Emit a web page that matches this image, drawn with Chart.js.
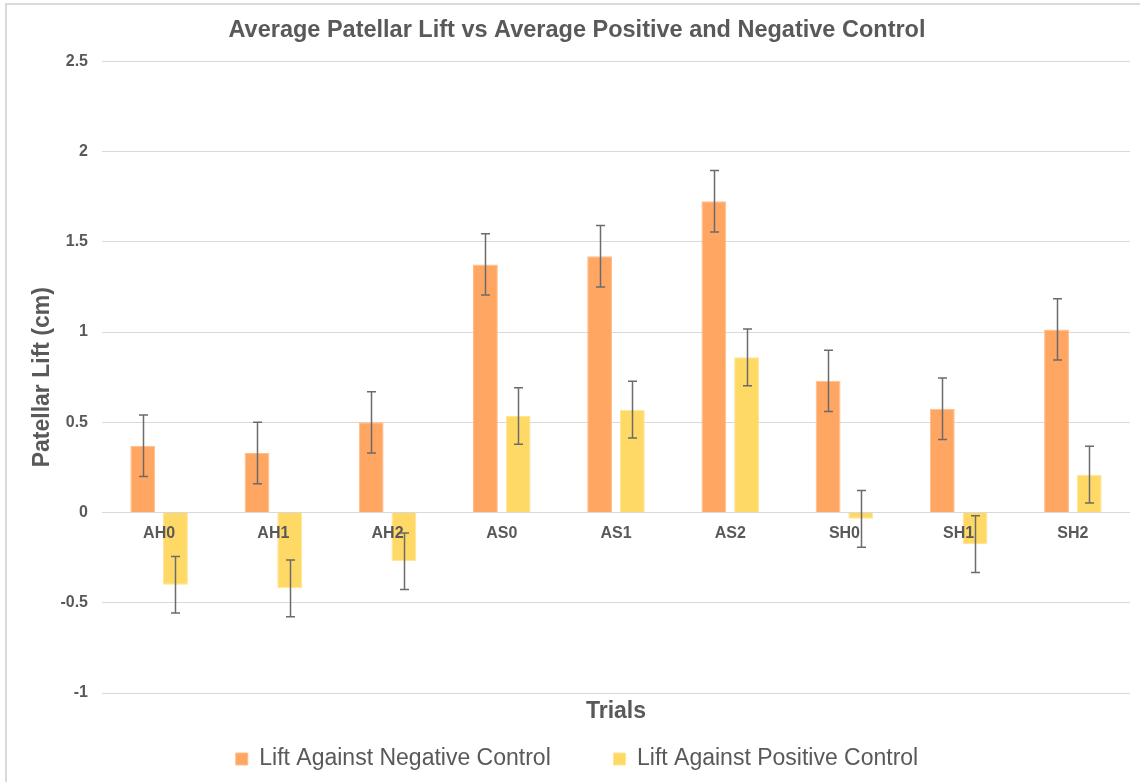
<!DOCTYPE html>
<html>
<head>
<meta charset="utf-8">
<title>Average Patellar Lift vs Average Positive and Negative Control</title>
<script src="https://cdn.jsdelivr.net/npm/chart.js@4.4.1/dist/chart.umd.min.js"></script>
<style>
  html, body { margin: 0; padding: 0; background: #fff; overflow: hidden; width: 1140px; height: 782px; }
  #frame { position: absolute; left: 5px; top: 3px; width: 1140px; height: 777px;
           border-left: 2px solid #d9d9d9; border-top: 2px solid #d9d9d9; }
  #frame canvas { display: block; }
</style>
</head>
<body>
<div id="frame"><canvas id="chart" width="1140" height="777"></canvas></div>
<script>
// Trial groups along the x axis
const trials = ['AH0', 'AH1', 'AH2', 'AS0', 'AS1', 'AS2', 'SH0', 'SH1', 'SH2'];

// Mean patellar lift (cm) for each trial
const liftNegative = [0.37, 0.33, 0.50, 1.375, 1.42, 1.725, 0.73, 0.575, 1.015];
const liftPositive = [-0.40, -0.42, -0.27, 0.535, 0.57, 0.86, -0.035, -0.175, 0.21];

// Error bar half-lengths (cm)
const errNegative = [0.17, 0.17, 0.17, 0.17, 0.17, 0.17, 0.17, 0.17, 0.17];
const errPositive = [0.157, 0.157, 0.157, 0.157, 0.157, 0.157, 0.157, 0.157, 0.157];

// Value axis ticks
const yTicks = [-1, -0.5, 0, 0.5, 1, 1.5, 2, 2.5];

const TEXT = '#595959';
const FONT = "'Liberation Sans', Arial, sans-serif";

// Vertical error bars with end caps, drawn last so they sit above bars and labels
const errorBars = {
  id: 'errorBars',
  afterDraw(chart) {
    const { ctx } = chart;
    const y = chart.scales.y;
    const errs = [errNegative, errPositive];
    chart.data.datasets.forEach((ds, i) => {
      const meta = chart.getDatasetMeta(i);
      meta.data.forEach((bar, j) => {
        const v = ds.data[j];
        const e = errs[i][j];
        const top = y.getPixelForValue(v + e);
        const bot = y.getPixelForValue(v - e);
        const x = Math.round(bar.x) + 0.5;
        ctx.save();
        ctx.strokeStyle = '#6b6b6b';
        ctx.lineWidth = 1.5;
        ctx.beginPath();
        ctx.moveTo(x, top); ctx.lineTo(x, bot);
        ctx.moveTo(x - 4.5, top); ctx.lineTo(x + 4.5, top);
        ctx.moveTo(x - 4.5, bot); ctx.lineTo(x + 4.5, bot);
        ctx.stroke();
        ctx.restore();
      });
    });
  }
};

new Chart(document.getElementById('chart'), {
  type: 'bar',
  data: {
    labels: trials,
    datasets: [
      {
        label: 'Lift Against Negative Control',
        data: liftNegative,
        backgroundColor: '#FFA663',
        borderColor: '#FFBD8C',
        borderWidth: 1,
        categoryPercentage: 0.573,
        barPercentage: 0.76
      },
      {
        label: 'Lift Against Positive Control',
        data: liftPositive,
        backgroundColor: '#FFD966',
        borderColor: '#FFE594',
        borderWidth: 1,
        categoryPercentage: 0.573,
        barPercentage: 0.76
      }
    ]
  },
  options: {
    responsive: false,
    animation: false,
    layout: { padding: { left: 17, right: 17, top: 0, bottom: 1.5 } },
    scales: {
      x: {
        position: { y: 0 },
        grid: { display: false, drawTicks: false },
        border: { display: false },
        ticks: { z: 1, padding: 11, color: TEXT, font: { family: FONT, size: 16, weight: 'bold' } }
      },
      xTitle: {
        type: 'category',
        position: 'bottom',
        offset: true,
        grid: { display: false, drawTicks: false },
        border: { display: false },
        ticks: { display: false },
        title: {
          display: true,
          text: 'Trials',
          color: TEXT,
          font: { family: FONT, size: 23, weight: 'bold' },
          padding: { top: 5.2, bottom: 3.7 }
        }
      },
      y: {
        min: -1,
        max: 2.5,
        afterBuildTicks(scale) { scale.ticks = yTicks.map(v => ({ value: v })); },
        afterFit(scale) { scale.width = 78; },
        grid: { color: '#d9d9d9', lineWidth: 1, drawTicks: false },
        border: { display: false },
        ticks: {
          padding: 14,
          color: TEXT,
          font: { family: FONT, size: 16, weight: 'bold' },
          callback: v => String(v)
        },
        title: {
          display: true,
          text: 'Patellar Lift (cm)',
          color: TEXT,
          font: { family: FONT, size: 23, weight: 'bold' },
          padding: { top: 5.2, bottom: 0 }
        }
      }
    },
    plugins: {
      title: {
        display: true,
        text: 'Average Patellar Lift vs Average Positive and Negative Control',
        color: TEXT,
        font: { family: FONT, size: 23.5, weight: 'bold' },
        padding: { top: 11, bottom: 17.2 }
      },
      legend: {
        position: 'bottom',
        labels: {
          boxWidth: 12,
          boxHeight: 12,
          padding: 18,
          color: TEXT,
          font: { family: FONT, size: 23 },
          // wider gap after the first entry
          generateLabels(chart) {
            const items = Chart.defaults.plugins.legend.labels.generateLabels(chart);
            items[0].text += '       ';
            return items;
          }
        }
      },
      tooltip: { enabled: false }
    }
  },
  plugins: [errorBars]
});
</script>
</body>
</html>
